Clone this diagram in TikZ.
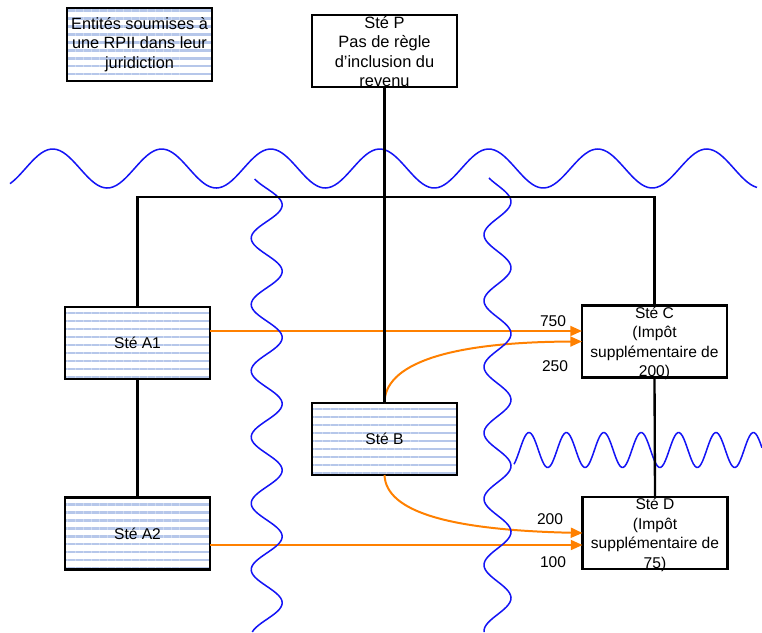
\documentclass[tikz,border=0pt]{standalone}
\usepackage{fontspec}
\setmainfont{Liberation Sans}
\usetikzlibrary{calc,arrows.meta,patterns.meta}
\definecolor{flowor}{RGB}{255,128,0}
\definecolor{wavebl}{RGB}{20,20,245}
\definecolor{stripebl}{RGB}{182,199,234}

\begin{document}
\begin{tikzpicture}[x=0.03cm, y=-0.03cm,
  every node/.style={font=\fontsize{13.3}{16.6}\selectfont},
  stebox/.style={draw, line width=1.8pt, minimum width=4.35cm, minimum height=2.16cm,
    outer sep=0pt, inner sep=0pt, align=center},
  rpii/.style={stebox, pattern={Lines[angle=0,distance=6.8pt,line width=1.9pt]},
    pattern color=stripebl},
  boxtext/.style={anchor=north, inner sep=0.8pt, align=center},
  link/.style={line width=2pt},
  flow/.style={flowor, line width=1.7pt, -{Triangle[length=10pt,width=8.5pt]}},
  wave/.style={wavebl, line width=1.3pt},
  amount/.style={inner sep=0pt}
]
  \useasboundingbox (0,0) rectangle (762,632);

  % Boxes
  \node[rpii, minimum height=2.19cm, font=\fontsize{13.9}{16.4}\selectfont] (legend)
    at (139.5,44.5) {Entités soumises à\\une RPII dans leur\\juridiction};
  \node[stebox] (P) at (384.5,51) {};
  \node[rpii] (A1) at (137.5,343) {Sté A1};
  \node[rpii] (A2) at (137.5,533.5) {Sté A2};
  \node[rpii] (B) at (384.5,439) {Sté B};
  \node[stebox] (C) at (654.5,341.5) {};
  \node[stebox] (D) at (655,533) {};

  % Orange flows
  \coordinate (c1) at ($(C.west)+(0,-10.5)$);
  \coordinate (d2) at ($(D.west)+(0,12)$);
  \draw[flow] (A1.east |- c1) -- (c1);
  \draw[flow] (B.north) .. controls (384.5,365) and (445,342) .. (C.west);
  \draw[flow] (B.south) .. controls (386,512) and (450,530) .. (D.west);
  \draw[flow] (A2.east |- d2) -- (d2);
  \node[amount] (l750) at (553,321) {750};
  \node[amount] (l250) at (555,366) {250};
  \node[amount] (l200) at (550,519) {200};
  \node[amount] (l100) at (553,562) {100};

  % Jurisdiction borders
  \draw[wave] plot[domain=10:757, samples=240, variable=\t]
    (\t, {168.5-19.5*cos(3.30275*(\t-52.7))});
  \draw[wave] plot[domain=179:632, samples=200, variable=\t]
    ({266.7+15.5*cos(5.42986*(\t-205))}, \t);
  \draw[wave] plot[domain=178:632, samples=200, variable=\t]
    ({497.5+13.5*cos(5.45042*(\t-201.7))}, \t);
  \draw[wave] plot[domain=514:762, samples=160, variable=\t]
    (\t, {450-17.5*cos(9.62567*(\t-529))});

  % Ownership links
  \coordinate (bus) at (384.5,197);
  \draw[link] (A1.north) |- (bus) -| (C.north);
  \draw[link] (P.south) -- (B.north);
  \draw[link] (A1.south) -- (A2.north);
  \draw[link] (C.south) -- (D.north);

  % Box texts
  \node[boxtext, font=\fontsize{14}{16.6}\selectfont] (Ptxt) at (P.north)
    {Sté P\\Pas de règle\\d’inclusion du\\revenu};
  \node[boxtext] (Ctxt) at (C.north) {Sté C\\(Impôt\\supplémentaire de\\200)};
  \node[boxtext] (Dtxt) at (D.north) {Sté D\\(Impôt\\supplémentaire de\\75)};
\end{tikzpicture}
\end{document}
